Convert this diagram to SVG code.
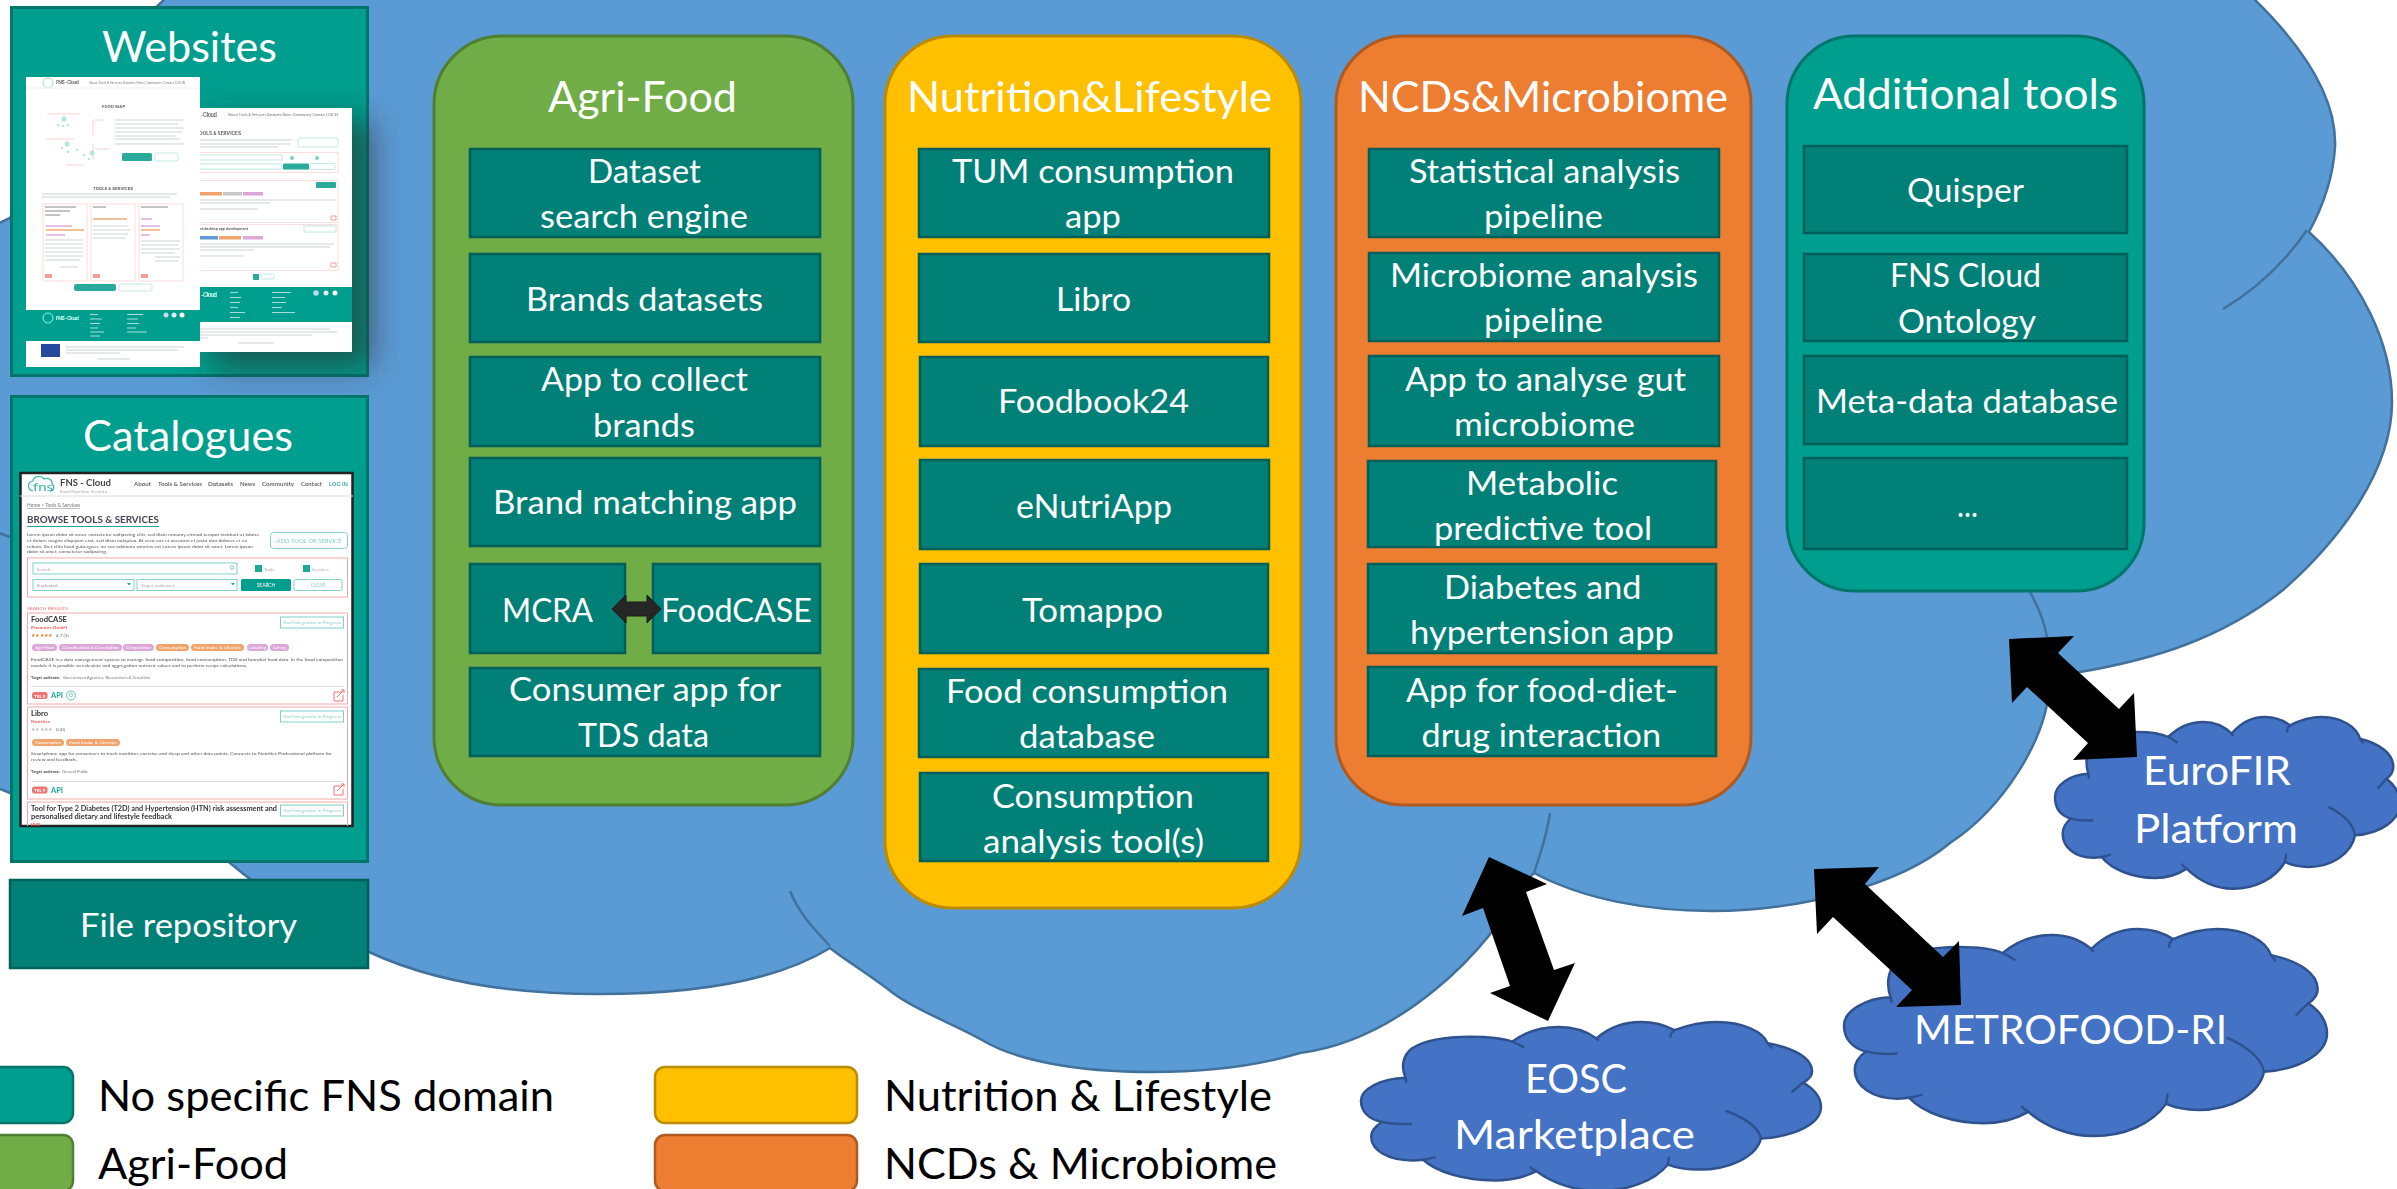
<svg xmlns="http://www.w3.org/2000/svg" xmlns:xlink="http://www.w3.org/1999/xlink" width="2397" height="1189" viewBox="0 0 2397 1189">
<style>
text{font-family:"Lato","Open Sans","Liberation Sans",sans-serif}
.w{fill:#fff}
.s42{font-size:42px}
.s32{font-size:32.5px}
.box{fill:#008077;stroke:#005f59;stroke-width:2.5}
.side{fill:#009e8e;stroke:#00766a;stroke-width:3}
.green{fill:#70ad47;stroke:#507e32;stroke-width:3}
.yellow{fill:#ffc000;stroke:#bc8c00;stroke-width:3}
.orange{fill:#ed7d31;stroke:#ae5a21;stroke-width:3}
.teal{fill:#009e8e;stroke:#00766a;stroke-width:3}
.inner{fill:none;stroke:#41719c;stroke-width:2.5}
.cl{fill:#4472c4;stroke:#2f528f;stroke-width:2.5;vector-effect:non-scaling-stroke}
.cli{fill:none;stroke:#2f528f;stroke-width:2.5;vector-effect:non-scaling-stroke}
.lg{font-size:42px;fill:#000}
.arrow{fill:#000}
.ui{font-family:"Inter","Lato",sans-serif}
.b{font-weight:700}
.pk{fill:none;stroke:#f5aaa5;stroke-width:1}
.pl{fill:none;stroke:#fbdedb;stroke-width:1}
.tl{fill:none;stroke:#7fd0c8;stroke-width:1}
.tp{fill:none;stroke:#c5e9e5;stroke-width:1}
.g5{font-size:4.6px;fill:#555}
.gl{font-size:4.6px;fill:#8fcfc8}
.tag{font-size:4px;fill:#fff}
.pur{fill:#dca6d8}
.org{fill:#f0a36a}
.red{fill:#ef7470}
.bar{fill:none;stroke:#dfe2e2;stroke-width:1.3}
.barp{fill:none;stroke:#f9d3d0;stroke-width:1}
</style>
<defs>
<filter id="soft" x="-30%" y="-30%" width="170%" height="170%"><feGaussianBlur stdDeviation="16"/></filter>
<filter id="bl" x="-5%" y="-5%" width="110%" height="110%"><feGaussianBlur stdDeviation="0.3"/></filter>
<filter id="bl2" x="-5%" y="-5%" width="110%" height="110%"><feGaussianBlur stdDeviation="0.6"/></filter>
<clipPath id="catclip"><rect x="20" y="473" width="333" height="353"/></clipPath>
<clipPath id="p2clip"><rect x="200" y="108" width="152" height="244"/></clipPath>
<g id="cloudshape">
<path class="cl" d="M47,305C15,295 0,270 0,240C0,205 45,172 100,170C92,145 90,105 115,80C145,55 195,45 245,45C285,45 320,50 340,60C370,30 405,15 445,15C480,15 510,30 530,50C555,20 590,0 630,0C660,0 685,10 705,25C735,10 765,0 800,0C860,0 905,30 915,65C975,80 1015,110 1015,150C1015,165 1008,175 995,185C1020,205 1035,230 1035,260C1035,310 975,350 900,355C890,410 830,450 760,450C735,450 710,445 690,435C660,485 600,515 535,515C480,515 430,490 395,455C365,475 335,483 300,483C235,483 170,458 140,420C130,422 122,422 115,422C60,422 23,390 23,350C23,333 32,318 47,305Z"/>
<path class="cli" d="M47,305C65,310 90,312 115,310M100,170C100,176 101,180 103,184M340,60C350,65 360,72 367,78M530,50L535,57M705,25C700,30 695,40 697,47M915,65L925,80M995,185C985,195 975,208 968,215M900,355C895,320 860,290 820,270M690,435C692,425 693,415 693,410M395,455C388,450 382,445 380,440M140,420C150,418 160,415 168,412"/>
</g>
</defs>

<g id="main-cloud">
<path fill="#5b9bd5" stroke="#41719c" stroke-width="2.5" d="M168,-4L2251,-4C2305,48 2337,100 2335,147C2333,180 2322,208 2309,232C2362,280 2392,345 2392,402C2392,470 2340,540 2283,590C2220,640 2150,660 2080,672L2050,676C2050,740 2000,810 1950,843C1900,885 1800,911 1712,911C1650,911 1585,900 1534,873L1522,885C1490,950 1400,1040 1300,1053C1250,1068 1200,1072 1152,1072C1075,1072 1015,1060 982,1040C950,1022 915,1010 893,993C870,975 845,960 830,948C770,985 680,994 598,994C520,994 440,985 369,952C320,925 280,905 230,863L200,835L10,793L-5,787L-5,225L10,218L100,60Z"/>
<path class="inner" d="M-4,532L10,537M790,891C800,915 815,930 830,946M1550,813C1547,835 1540,855 1534,873M2030,592C2040,610 2045,625 2047,637M2223,309C2255,290 2285,262 2307,230"/>
</g>

<g id="websites">
<rect class="side" x="11.5" y="7.5" width="356" height="368"/>
<text class="w s42" x="102" y="62" textLength="175" lengthAdjust="spacingAndGlyphs">Websites</text>
</g>
<rect x="212" y="120" width="160" height="248" fill="#2a2a2a" opacity="0.6" filter="url(#soft)"/>
<g id="website-page-2" filter="url(#bl2)">
<rect x="200" y="108" width="152" height="244" fill="#fff"/>
<g clip-path="url(#p2clip)">
<text class="ui b" x="201" y="117" font-size="5.5" fill="#777" textLength="16">-Cloud</text>
<text class="ui" x="228" y="115.5" font-size="3" fill="#666" textLength="110" lengthAdjust="spacingAndGlyphs">About  Tools &amp; Services  Datasets  News  Community  Contact  LOG IN</text>
<text class="ui b" x="199" y="135" font-size="4.4" fill="#666" textLength="42" lengthAdjust="spacingAndGlyphs">OOLS &amp; SERVICES</text>
<path class="bar" d="M200,140H292M200,144H290M200,147H278"/>
<rect class="tp" x="298" y="138" width="40" height="9" rx="2"/>
<rect class="pl" x="190" y="152.5" width="148" height="20"/>
<rect class="tp" x="190" y="155" width="92" height="5"/>
<rect class="tp" x="190" y="164" width="92" height="5"/>
<rect x="283" y="163.5" width="26" height="6" rx="1" fill="#2aaa9d"/>
<rect class="tp" x="310" y="163.5" width="25" height="6" rx="1"/>
<circle cx="292" cy="158" r="2" fill="#7fcfc8"/><circle cx="317" cy="158" r="2" fill="#7fcfc8"/>
<rect class="pl" x="190" y="180.5" width="148" height="42"/>
<rect class="pl" x="190" y="224.5" width="148" height="46"/>
<rect x="316" y="182" width="20" height="6" rx="1" fill="#2aaa9d"/>
<rect x="200" y="192" width="22" height="3.5" class="org"/><rect x="223" y="192" width="19" height="3.5" fill="#c8c8c8"/><rect x="243" y="192" width="20" height="3.5" class="pur"/>
<path class="bar" d="M200,200H336M200,203H270M200,209H258"/>
<text class="ui b" x="199" y="230" font-size="3.4" fill="#666" textLength="49" lengthAdjust="spacingAndGlyphs">nd desktop app development</text>
<rect class="tp" x="304" y="226" width="32" height="6"/>
<rect x="200" y="236" width="18" height="3.5" fill="#5b9bd5"/><rect x="219" y="236" width="22" height="3.5" class="org"/><rect x="243" y="236" width="20" height="3.5" class="pur"/>
<path class="bar" d="M200,244H334M200,247H330M200,250H254M200,256H244"/>
<path fill="none" stroke="#f29e9a" d="M331,216h5v4h-5zM331,263h5v4h-5z"/>
<rect x="253" y="274" width="6" height="6" fill="#2aaa9d"/><rect class="tp" x="261" y="274" width="13" height="5" rx="1"/>
<rect x="200" y="287" width="152" height="35" fill="#009e8e"/>
<text class="ui b" x="201" y="297" font-size="5.5" fill="#cfe" textLength="16">-Cloud</text>
<path fill="none" stroke="#a5ded8" stroke-width="1.2" d="M230,292.5H238M230,297.5H241M230,302.5H240M230,307.5H238M230,312.5H245M230,317.5H240M272,292.5H291M272,297.5H285M272,302.5H286M272,307.5H282M272,312.5H295"/>
<circle cx="316" cy="293" r="2.8" fill="#bde"/><circle cx="326" cy="293" r="2.5" fill="#def"/><circle cx="335" cy="293" r="2.5" fill="#fff"/>
<path class="bar" d="M200,329H330M200,332H337M200,335H312M200,338H208M238,343H274"/>
</g>
</g>
<g id="website-page-1" filter="url(#bl2)">
<rect x="26" y="77" width="174" height="290" fill="#fff"/>
<circle cx="48" cy="83" r="5" fill="none" stroke="#a5dfd9"/>
<text class="ui b" x="56" y="84" font-size="5" fill="#777" textLength="23">FNS - Cloud</text>
<text class="ui" x="89" y="84" font-size="2.8" fill="#777" textLength="96" lengthAdjust="spacingAndGlyphs">About  Tools &amp; Services  Datasets  News  Community  Contact  LOG IN</text>
<path stroke="#f0f0f0" d="M26,88H200"/>
<text class="ui b" x="102" y="108" font-size="4" fill="#666" textLength="23">FOOD MAP</text>
<path class="barp" d="M47,114H80M94,120H103M46,139H74M95,149H109M66,165H84M93,120V135M93,143V160"/>
<g fill="#b5e3de"><circle cx="64" cy="119" r="2.5"/><circle cx="58" cy="125" r="1.2"/><circle cx="63" cy="126" r="1.2"/><circle cx="68" cy="125" r="1.2"/><circle cx="67" cy="144" r="2.5"/><circle cx="62" cy="148" r="1.2"/><circle cx="68" cy="152" r="1.2"/><circle cx="77" cy="150" r="1.2"/><circle cx="92" cy="153" r="2.5"/><circle cx="84" cy="155" r="1.2"/><circle cx="89" cy="159" r="1.2"/></g>
<path class="bar" d="M115,120H183M115,124H178M115,128H184M115,132H182M115,136H175M115,139H180M115,144H184"/>
<rect x="122" y="153" width="30" height="8" rx="1.5" fill="#2aaa9d"/>
<rect class="tp" x="155" y="153" width="23" height="8" rx="2"/>
<text class="ui b" x="93" y="190" font-size="4" fill="#666" textLength="40" lengthAdjust="spacingAndGlyphs">TOOLS &amp; SERVICES</text>
<path class="bar" d="M42,194H177M42,197H170"/>
<rect class="pl" x="43" y="204" width="44" height="77"/><rect class="pl" x="91" y="204" width="44" height="77"/><rect class="pl" x="139" y="204" width="44" height="77"/>
<path fill="none" stroke="#888" stroke-width="1.2" d="M45,207H76M45,211H70M45,215H60M93,207H106M141,207H168"/>
<path fill="none" stroke="#e6c0e3" stroke-width="1.8" d="M46,226H72M46,235H65M141,219H152M141,226H160M141,235H150"/>
<path fill="none" stroke="#f5bf96" stroke-width="1.8" d="M46,230H84M93,219H127M141,230H160"/>
<path class="bar" d="M45,240H83M45,244H83M45,248H82M45,252H83M45,256H83M45,260H80M60,267H78M93,226H128M93,230H130M93,234H128M93,238H125M141,241H180M141,245H178M141,249H180M141,253H175M155,257H180M155,261H178"/>
<rect x="45" y="274" width="7" height="4" fill="#f29e9a"/><rect x="93" y="274" width="7" height="4" fill="#f29e9a"/><rect x="141" y="274" width="7" height="4" fill="#f29e9a"/>
<rect x="74" y="284" width="42" height="7" rx="2" fill="#2aaa9d"/><rect class="tp" x="119" y="284" width="33" height="7" rx="2"/>
<rect x="26" y="310" width="174" height="31" fill="#009e8e"/>
<circle cx="48" cy="318" r="5" fill="none" stroke="#8fe"/>
<text class="ui b" x="56" y="320" font-size="5" fill="#cfe" textLength="23">FNS - Cloud</text>
<path fill="none" stroke="#a5ded8" stroke-width="1.2" d="M90,314.5H98M90,319H102M90,323.5H100M90,328H98M90,332H104M90,336H100M127,314.5H143M127,319H138M127,323.5H139M127,328H136M127,332H147"/>
<circle cx="166" cy="315" r="2.5" fill="#bde"/><circle cx="174" cy="315" r="2.5" fill="#def"/><circle cx="182" cy="315" r="2.5" fill="#fff"/>
<rect x="41" y="344" width="19" height="13" fill="#274a9e"/>
<path class="bar" d="M66,347H184M66,350H178M66,353H120M97,359H130"/>
</g>

<g id="catalogues">
<rect class="side" x="11.5" y="396.5" width="356" height="465"/>
<text class="w s42" x="83" y="451" textLength="210" lengthAdjust="spacingAndGlyphs">Catalogues</text>
<rect x="20.5" y="473" width="332" height="353" fill="#fff" stroke="#222" stroke-width="2.5"/>
<g clip-path="url(#catclip)" filter="url(#bl)" class="ui">
<path fill="none" stroke="#3fb5aa" stroke-width="1.2" d="M33,491C27,490 27,482 33,481C33,476 42,475 44,479C48,477 53,480 52,484C55,486 54,491 50,491"/>
<text x="33" y="491" font-size="11" fill="#3fb5aa" textLength="20" lengthAdjust="spacingAndGlyphs">fns</text>
<text class="b" x="60" y="486" font-size="9" fill="#444" textLength="51" lengthAdjust="spacingAndGlyphs">FNS - Cloud</text>
<text x="60" y="492.5" font-size="4.2" fill="#aaa" textLength="47" lengthAdjust="spacingAndGlyphs">Food Nutrition Security</text>
<g font-size="5.2" font-weight="600" fill="#555">
<text x="134" y="486.3" textLength="17" lengthAdjust="spacingAndGlyphs">About</text>
<text x="158" y="486.3" textLength="44" lengthAdjust="spacingAndGlyphs">Tools &amp; Services</text>
<text x="208" y="486.3" textLength="25" lengthAdjust="spacingAndGlyphs">Datasets</text>
<text x="240" y="486.3" textLength="15" lengthAdjust="spacingAndGlyphs">News</text>
<text x="262" y="486.3" textLength="32" lengthAdjust="spacingAndGlyphs">Community</text>
<text x="301" y="486.3" textLength="21" lengthAdjust="spacingAndGlyphs">Contact</text>
<text x="329" y="486.3" fill="#1da99b" textLength="19" lengthAdjust="spacingAndGlyphs">LOG IN</text>
</g>
<path stroke="#ddd" d="M20,496H354"/>
<text x="27" y="507" font-size="4.8" fill="#777" text-decoration="underline" textLength="53" lengthAdjust="spacingAndGlyphs">Home &gt; Tools &amp; Services</text>
<text class="b" x="27" y="523" font-size="9" fill="#445" textLength="132" lengthAdjust="spacingAndGlyphs">BROWSE TOOLS &amp; SERVICES</text>
<path stroke="#1da99b" d="M27,526.5H159"/>
<text class="g5" x="27" y="536" textLength="232" lengthAdjust="spacingAndGlyphs">Lorem ipsum dolor sit amet, consetetur sadipscing elitr, sed diam nonumy eirmod tempor invidunt ut labore</text>
<text class="g5" x="27" y="541.8" textLength="220" lengthAdjust="spacingAndGlyphs">et dolore magna aliquyam erat, sed diam voluptua. At vero eos et accusam et justo duo dolores et ea</text>
<text class="g5" x="27" y="547.6" textLength="226" lengthAdjust="spacingAndGlyphs">rebum. Stet clita kasd gubergren, no sea takimata sanctus est Lorem ipsum dolor sit amet. Lorem ipsum</text>
<text class="g5" x="27" y="553.4" textLength="80" lengthAdjust="spacingAndGlyphs">dolor sit amet, consetetur sadipscing.</text>
<rect class="tl" x="270.5" y="532.5" width="77" height="16" rx="3"/>
<text x="276.5" y="542.5" font-size="5.4" fill="#7fd0c8" textLength="65" lengthAdjust="spacingAndGlyphs">ADD TOOL OR SERVICE</text>
<rect class="pk" x="27.5" y="558" width="320" height="39"/>
<rect class="tl" x="33" y="563" width="204" height="11"/>
<text x="37" y="570.5" font-size="4.6" fill="#aaa">Search</text>
<circle cx="232" cy="567.5" r="1.8" fill="none" stroke="#8bc"/>
<rect x="255" y="565" width="7" height="7" fill="#1da99b"/><text x="264" y="570.5" font-size="4.6" fill="#aaa">Tools</text>
<rect x="303" y="565" width="7" height="7" fill="#1da99b"/><text x="312" y="570.5" font-size="4.6" fill="#aaa">Services</text>
<rect class="tl" x="33" y="579.5" width="101" height="11"/><text x="37" y="586.5" font-size="4.6" fill="#888">8 selected</text>
<rect class="tl" x="137" y="579.5" width="100" height="11"/><text x="141" y="586.5" font-size="4.6" fill="#aaa">Target audiences</text>
<path fill="#1da99b" d="M127,583h4l-2,2.5zM231,583h4l-2,2.5z"/>
<rect x="241" y="579" width="50" height="12" rx="1.5" fill="#009e8e"/><text x="266" y="587" text-anchor="middle" font-size="4.8" fill="#fff">SEARCH</text>
<rect class="tl" x="294" y="579.5" width="48" height="11" rx="1.5"/><text x="318" y="587" text-anchor="middle" font-size="4.8" fill="#8fcfc8">CLEAR</text>
<text x="27" y="610" font-size="4.4" fill="#ef7470" textLength="41" lengthAdjust="spacingAndGlyphs">SEARCH RESULTS</text>

<rect class="pk" x="27.5" y="613" width="320" height="91"/>
<text class="b" x="31" y="622" font-size="6.8" fill="#333" textLength="36" lengthAdjust="spacingAndGlyphs">FoodCASE</text>
<text class="b" x="31" y="628.5" font-size="4" fill="#ef5a55" textLength="36" lengthAdjust="spacingAndGlyphs">Premotec GmbH</text>
<text x="31" y="636.5" font-size="4.6" fill="#e08a3a" textLength="21">★★★★★</text>
<text x="56" y="636.5" font-size="4.6" fill="#666">4.7 (3)</text>
<rect class="tl" x="280.5" y="617" width="63" height="11"/><text class="gl" x="283" y="624" textLength="58" lengthAdjust="spacingAndGlyphs">Tool Integration in Progress</text>
<rect class="pur" x="32" y="644" width="25" height="7" rx="3.5"/><text class="tag" x="35" y="649" textLength="19" lengthAdjust="spacingAndGlyphs">Agri-Food</text>
<rect class="pur" x="59" y="644" width="63" height="7" rx="3.5"/><text class="tag" x="62" y="649" textLength="57" lengthAdjust="spacingAndGlyphs">Classification &amp; Description</text>
<rect class="pur" x="123" y="644" width="31" height="7" rx="3.5"/><text class="tag" x="126" y="649" textLength="25" lengthAdjust="spacingAndGlyphs">Composition</text>
<rect class="org" x="156" y="644" width="33" height="7" rx="3.5"/><text class="tag" x="159" y="649" textLength="27" lengthAdjust="spacingAndGlyphs">Consumption</text>
<rect class="org" x="191" y="644" width="53" height="7" rx="3.5"/><text class="tag" x="194" y="649" textLength="47" lengthAdjust="spacingAndGlyphs">Food Intake &amp; Lifestyle</text>
<rect class="pur" x="247" y="644" width="21" height="7" rx="3.5"/><text class="tag" x="249" y="649" textLength="17" lengthAdjust="spacingAndGlyphs">Labelling</text>
<rect class="pur" x="270" y="644" width="19" height="7" rx="3.5"/><text class="tag" x="273" y="649" textLength="13" lengthAdjust="spacingAndGlyphs">Safety</text>
<text class="g5" x="31" y="661" textLength="312" lengthAdjust="spacingAndGlyphs">FoodCASE is a data management system to manage food composition, food consumption, TDS and branded food data. In the food composition</text>
<text class="g5" x="31" y="667" textLength="216" lengthAdjust="spacingAndGlyphs">module it is possible to calculate and aggregation nutrient values and to perform recipe calculations.</text>
<text class="b" x="31" y="679" font-size="3.8" fill="#444" textLength="29" lengthAdjust="spacingAndGlyphs">Target audience:</text>
<text x="63" y="679" font-size="3.8" fill="#777" textLength="87" lengthAdjust="spacingAndGlyphs">Government Agencies, Researchers &amp; Scientists</text>
<path stroke="#ddd" d="M31,686.5H343"/>
<rect class="red" x="32" y="692" width="15.5" height="7" rx="2.5"/><text class="b" x="39.7" y="697.5" text-anchor="middle" font-size="4.4" fill="#fff">TRL 9</text>
<text class="b" x="51" y="698" font-size="7" fill="#1da99b" textLength="12" lengthAdjust="spacingAndGlyphs">API</text>
<circle cx="71" cy="695.5" r="4.5" fill="none" stroke="#5fc2b8"/>
<circle cx="71" cy="695" r="1.8" fill="none" stroke="#5fc2b8" stroke-width=".7"/>
<path fill="none" stroke="#ef7470" d="M342,692h-8v9h9v-6M337,697l7,-7M341,690h3v3"/>

<rect class="pk" x="27.5" y="707" width="320" height="92"/>
<text class="b" x="31" y="716" font-size="6.8" fill="#333" textLength="17" lengthAdjust="spacingAndGlyphs">Libro</text>
<text class="b" x="31" y="723" font-size="4" fill="#ef5a55" textLength="19" lengthAdjust="spacingAndGlyphs">Nutritics</text>
<text x="31" y="731" font-size="4.6" fill="#bbb" textLength="21">★★★★★</text>
<text x="56" y="731" font-size="4.6" fill="#666">0 (0)</text>
<rect class="tl" x="280.5" y="711" width="63" height="11"/><text class="gl" x="283" y="718" textLength="58" lengthAdjust="spacingAndGlyphs">Tool Integration in Progress</text>
<rect class="org" x="32" y="739" width="32" height="7" rx="3.5"/><text class="tag" x="35" y="744" textLength="26" lengthAdjust="spacingAndGlyphs">Consumption</text>
<rect class="org" x="66" y="739" width="54" height="7" rx="3.5"/><text class="tag" x="69" y="744" textLength="48" lengthAdjust="spacingAndGlyphs">Food Intake &amp; Lifestyle</text>
<text class="g5" x="31" y="755" textLength="301" lengthAdjust="spacingAndGlyphs">Smartphone app for consumers to track nutrition, exercise and sleep and other data points. Connects to Nutritics Professional platform for</text>
<text class="g5" x="31" y="761" textLength="46" lengthAdjust="spacingAndGlyphs">review and feedback.</text>
<text class="b" x="31" y="773" font-size="3.8" fill="#444" textLength="29" lengthAdjust="spacingAndGlyphs">Target audience:</text>
<text x="62" y="773" font-size="3.8" fill="#777" textLength="26" lengthAdjust="spacingAndGlyphs">General Public</text>
<path stroke="#ddd" d="M31,781.5H343"/>
<rect class="red" x="32" y="786.5" width="15.5" height="7" rx="2.5"/><text class="b" x="39.7" y="792" text-anchor="middle" font-size="4.4" fill="#fff">TRL 9</text>
<text class="b" x="51" y="792.5" font-size="7" fill="#1da99b" textLength="12" lengthAdjust="spacingAndGlyphs">API</text>
<path fill="none" stroke="#ef7470" d="M342,786h-8v9h9v-6M337,791l7,-7M341,784h3v3"/>

<rect class="pk" x="27.5" y="802" width="320" height="40"/>
<text class="b" x="31" y="811" font-size="6.8" fill="#333" textLength="246" lengthAdjust="spacingAndGlyphs">Tool for Type 2 Diabetes (T2D) and Hypertension (HTN) risk assessment and</text>
<text class="b" x="31" y="819" font-size="6.8" fill="#333" textLength="141" lengthAdjust="spacingAndGlyphs">personalised dietary and lifestyle feedback</text>
<text class="b" x="31" y="825.5" font-size="4" fill="#ef5a55" textLength="9" lengthAdjust="spacingAndGlyphs">ISIB</text>
<rect class="tl" x="280.5" y="805" width="63" height="11"/><text class="gl" x="283" y="812" textLength="58" lengthAdjust="spacingAndGlyphs">Tool Integration in Progress</text>
</g>
</g>

<g id="file-repository">
<rect class="box" x="10" y="880" width="358" height="88"/>
<text class="w s32" x="80" y="937" textLength="217" lengthAdjust="spacingAndGlyphs">File repository</text>
</g>

<g id="panel-agri-food">
<rect class="green" x="434" y="36" width="419" height="769" rx="68" ry="68"/>
<text class="w s42" x="548" y="112" textLength="189" lengthAdjust="spacingAndGlyphs">Agri-Food</text>
</g>
<g id="agri-dataset"><rect class="box" x="470" y="149" width="350" height="88"/>
<text class="w s32" x="588" y="183" textLength="113" lengthAdjust="spacingAndGlyphs">Dataset</text>
<text class="w s32" x="540" y="228" textLength="208" lengthAdjust="spacingAndGlyphs">search engine</text></g>
<g id="agri-brands"><rect class="box" x="470" y="254" width="350" height="88"/>
<text class="w s32" x="526" y="311" textLength="237" lengthAdjust="spacingAndGlyphs">Brands datasets</text></g>
<g id="agri-app"><rect class="box" x="470" y="357" width="350" height="89"/>
<text class="w s32" x="541" y="391" textLength="207" lengthAdjust="spacingAndGlyphs">App to collect</text>
<text class="w s32" x="593" y="437" textLength="102" lengthAdjust="spacingAndGlyphs">brands</text></g>
<g id="agri-matching"><rect class="box" x="470" y="458" width="350" height="88"/>
<text class="w s32" x="493" y="514" textLength="304" lengthAdjust="spacingAndGlyphs">Brand matching app</text></g>
<g id="agri-mcra"><rect class="box" x="470" y="564" width="155" height="89"/>
<text class="w s32" x="502" y="622" textLength="91" lengthAdjust="spacingAndGlyphs">MCRA</text></g>
<g id="agri-foodcase"><rect class="box" x="653" y="564" width="167" height="89"/>
<text class="w s32" x="661" y="622" textLength="151" lengthAdjust="spacingAndGlyphs">FoodCASE</text></g>
<g id="agri-consumer"><rect class="box" x="470" y="668" width="350" height="88"/>
<text class="w s32" x="509" y="701" textLength="272" lengthAdjust="spacingAndGlyphs">Consumer app for</text>
<text class="w s32" x="578" y="747" textLength="131" lengthAdjust="spacingAndGlyphs">TDS data</text></g>

<g id="panel-nutrition">
<rect class="yellow" x="885" y="36" width="416" height="872" rx="68" ry="68"/>
<text class="w s42" x="907" y="112" textLength="365" lengthAdjust="spacingAndGlyphs">Nutrition&amp;Lifestyle</text>
</g>
<g id="nut-tum"><rect class="box" x="919" y="149" width="350" height="88"/>
<text class="w s32" x="952" y="183" textLength="282" lengthAdjust="spacingAndGlyphs">TUM consumption</text>
<text class="w s32" x="1065" y="228" textLength="56" lengthAdjust="spacingAndGlyphs">app</text></g>
<g id="nut-libro"><rect class="box" x="919" y="254" width="350" height="88"/>
<text class="w s32" x="1056" y="311" textLength="75" lengthAdjust="spacingAndGlyphs">Libro</text></g>
<g id="nut-foodbook"><rect class="box" x="920" y="357" width="348" height="89"/>
<text class="w s32" x="998" y="413" textLength="191" lengthAdjust="spacingAndGlyphs">Foodbook24</text></g>
<g id="nut-enutri"><rect class="box" x="920" y="460" width="349" height="89"/>
<text class="w s32" x="1016" y="518" textLength="156" lengthAdjust="spacingAndGlyphs">eNutriApp</text></g>
<g id="nut-tomappo"><rect class="box" x="920" y="564" width="348" height="89"/>
<text class="w s32" x="1022" y="622" textLength="141" lengthAdjust="spacingAndGlyphs">Tomappo</text></g>
<g id="nut-food-db"><rect class="box" x="919" y="669" width="349" height="88"/>
<text class="w s32" x="946" y="703" textLength="282" lengthAdjust="spacingAndGlyphs">Food consumption</text>
<text class="w s32" x="1019" y="748" textLength="136" lengthAdjust="spacingAndGlyphs">database</text></g>
<g id="nut-analysis"><rect class="box" x="920" y="773" width="348" height="88"/>
<text class="w s32" x="992" y="808" textLength="202" lengthAdjust="spacingAndGlyphs">Consumption</text>
<text class="w s32" x="983" y="853" textLength="221" lengthAdjust="spacingAndGlyphs">analysis tool(s)</text></g>

<g id="panel-ncds">
<rect class="orange" x="1336" y="36" width="415" height="769" rx="68" ry="68"/>
<text class="w s42" x="1358" y="112" textLength="370" lengthAdjust="spacingAndGlyphs">NCDs&amp;Microbiome</text>
</g>
<g id="ncd-stat"><rect class="box" x="1369" y="149" width="350" height="88"/>
<text class="w s32" x="1409" y="183" textLength="271" lengthAdjust="spacingAndGlyphs">Statistical analysis</text>
<text class="w s32" x="1484" y="228" textLength="119" lengthAdjust="spacingAndGlyphs">pipeline</text></g>
<g id="ncd-micro"><rect class="box" x="1369" y="253" width="350" height="88"/>
<text class="w s32" x="1390" y="287" textLength="308" lengthAdjust="spacingAndGlyphs">Microbiome analysis</text>
<text class="w s32" x="1484" y="332" textLength="119" lengthAdjust="spacingAndGlyphs">pipeline</text></g>
<g id="ncd-gut"><rect class="box" x="1369" y="356" width="350" height="90"/>
<text class="w s32" x="1405" y="391" textLength="281" lengthAdjust="spacingAndGlyphs">App to analyse gut</text>
<text class="w s32" x="1454" y="436" textLength="181" lengthAdjust="spacingAndGlyphs">microbiome</text></g>
<g id="ncd-metabolic"><rect class="box" x="1368" y="461" width="348" height="86"/>
<text class="w s32" x="1466" y="495" textLength="152" lengthAdjust="spacingAndGlyphs">Metabolic</text>
<text class="w s32" x="1434" y="540" textLength="218" lengthAdjust="spacingAndGlyphs">predictive tool</text></g>
<g id="ncd-diabetes"><rect class="box" x="1368" y="564" width="348" height="89"/>
<text class="w s32" x="1444" y="599" textLength="197.5" lengthAdjust="spacingAndGlyphs">Diabetes and</text>
<text class="w s32" x="1410" y="644" textLength="264" lengthAdjust="spacingAndGlyphs">hypertension app</text></g>
<g id="ncd-drug"><rect class="box" x="1368" y="667" width="348" height="89"/>
<text class="w s32" x="1406" y="702" textLength="272" lengthAdjust="spacingAndGlyphs">App for food-diet-</text>
<text class="w s32" x="1421.5" y="747" textLength="239.5" lengthAdjust="spacingAndGlyphs">drug interaction</text></g>

<g id="panel-additional">
<rect class="teal" x="1787" y="36" width="357" height="555" rx="68" ry="68"/>
<text class="w s42" x="1813" y="109" textLength="305" lengthAdjust="spacingAndGlyphs">Additional tools</text>
</g>
<g id="add-quisper"><rect class="box" x="1804" y="146" width="323" height="87"/>
<text class="w s32" x="1907" y="202" textLength="117" lengthAdjust="spacingAndGlyphs">Quisper</text></g>
<g id="add-ontology"><rect class="box" x="1804" y="254" width="323" height="87"/>
<text class="w s32" x="1890" y="287" textLength="151" lengthAdjust="spacingAndGlyphs">FNS Cloud</text>
<text class="w s32" x="1898" y="333" textLength="138" lengthAdjust="spacingAndGlyphs">Ontology</text></g>
<g id="add-metadata"><rect class="box" x="1804" y="356" width="323" height="88"/>
<text class="w s32" x="1816" y="412.5" textLength="302" lengthAdjust="spacingAndGlyphs">Meta-data database</text></g>
<g id="add-more"><rect class="box" x="1804" y="458" width="323" height="91"/>
<text class="w s32" x="1957" y="517" textLength="21" lengthAdjust="spacingAndGlyphs">...</text></g>

<g id="cloud-eurofir">
<use href="#cloudshape" transform="translate(2055,717) scale(0.3333,0.3333)"/>
<text class="w" font-size="40" x="2143" y="785" textLength="148" lengthAdjust="spacingAndGlyphs">EuroFIR</text>
<text class="w" font-size="40" x="2134" y="843" textLength="164" lengthAdjust="spacingAndGlyphs">Platform</text>
</g>
<g id="cloud-metrofood">
<use href="#cloudshape" transform="translate(1844,929) scale(0.4667,0.402)"/>
<text class="w" font-size="40" x="1914" y="1044" textLength="313" lengthAdjust="spacingAndGlyphs">METROFOOD-RI</text>
</g>
<g id="cloud-eosc">
<use href="#cloudshape" transform="translate(1361,1022) scale(0.4444,0.328)"/>
<text class="w" font-size="40" x="1525" y="1093" textLength="102" lengthAdjust="spacingAndGlyphs">EOSC</text>
<text class="w" font-size="40" x="1454" y="1149" textLength="241" lengthAdjust="spacingAndGlyphs">Marketplace</text>
</g>

<g id="legend">
<g id="legend-none"><rect x="-130" y="1067" width="203" height="56" rx="10" fill="#009e8e" stroke="#00766a" stroke-width="2.5"/>
<text class="lg" x="98" y="1111" textLength="456" lengthAdjust="spacingAndGlyphs">No specific FNS domain</text></g>
<g id="legend-agri"><rect x="-130" y="1135" width="203" height="56" rx="10" fill="#70ad47" stroke="#507e32" stroke-width="2.5"/>
<text class="lg" x="98" y="1179" textLength="190" lengthAdjust="spacingAndGlyphs">Agri-Food</text></g>
<g id="legend-nutrition"><rect x="655" y="1067" width="202" height="56" rx="10" fill="#ffc000" stroke="#bc8c00" stroke-width="2.5"/>
<text class="lg" x="884" y="1111" textLength="388" lengthAdjust="spacingAndGlyphs">Nutrition &amp; Lifestyle</text></g>
<g id="legend-ncds"><rect x="655" y="1135" width="202" height="56" rx="10" fill="#ed7d31" stroke="#ae5a21" stroke-width="2.5"/>
<text class="lg" x="884" y="1179" textLength="393" lengthAdjust="spacingAndGlyphs">NCDs &amp; Microbiome</text></g>
</g>

<g id="connectors">
<polygon fill="#262626" stroke="#1a1a1a" stroke-width="1" points="612,609 626,595 626,602 647,602 647,595 661,609 647,623 647,616 626,616 626,623"/>
<polygon class="arrow" points="1489,857 1547,884 1526,892 1554,970 1575,963 1548,1021 1490,993 1510,986 1483,908 1462,916"/>
<polygon class="arrow" points="1814,869 1879,867 1865,884 1943,957 1959,941 1961,1005 1896,1007 1912,990 1833,917 1817,934"/>
<polygon class="arrow" points="2009,639 2074,636 2058,653 2119,709 2134,693 2137,757 2073,760 2088,743 2027,687 2012,703"/>
</g>
</svg>
